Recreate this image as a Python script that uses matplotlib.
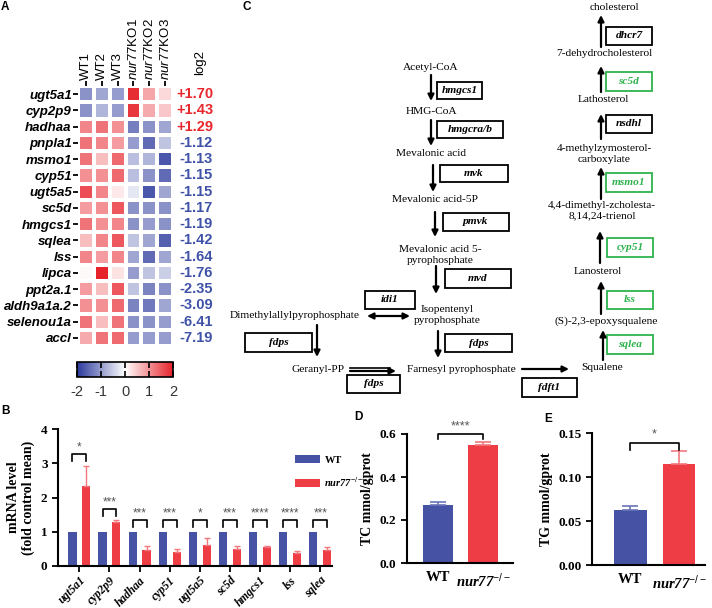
import numpy as np
import matplotlib
matplotlib.use("Agg")
import matplotlib.pyplot as plt
from matplotlib.colors import LinearSegmentedColormap
from matplotlib.patches import Rectangle

plt.rcParams['font.family'] = ['Liberation Sans', 'DejaVu Sans']
plt.rcParams['axes.unicode_minus'] = False
plt.rcParams['mathtext.fontset'] = 'custom'
plt.rcParams['mathtext.rm'] = 'Liberation Sans'
plt.rcParams['mathtext.it'] = 'Liberation Sans:italic'
plt.rcParams['mathtext.bfit'] = 'Liberation Serif:italic:bold'

W, H = 712, 608
SERIF = 'Liberation Serif'
BLUE = '#4653a5'
RED = '#ee3d45'
GREEN = '#2fb34c'

# ---- A: heatmap data
genes = ["ugt5a1", "cyp2p9", "hadhaa", "pnpla1", "msmo1", "cyp51", "ugt5a5", "sc5d",
         "hmgcs1", "sqlea", "lss", "lipca", "ppt2a.1", "aldh9a1a.2", "selenou1a", "accl"]
samples = ["WT1", "WT2", "WT3", r"$\mathit{nur77}$KO1", r"$\mathit{nur77}$KO2", r"$\mathit{nur77}$KO3"]
log2fc = [1.70, 1.43, 1.29, -1.12, -1.13, -1.15, -1.15, -1.17, -1.19, -1.42, -1.64, -1.76,
          -2.35, -3.09, -6.41, -7.19]
zscore = [
    [-1.1, -0.9, -1.0, 1.9, 0.8, 0.35],
    [-1.1, -0.75, -1.0, 1.8, 0.75, 0.5],
    [1.1, 1.25, 1.0, -1.3, -1.1, -0.9],
    [1.25, 1.1, 0.9, -1.0, -1.5, -0.6],
    [1.25, 0.6, 1.35, -0.65, -0.75, -1.7],
    [1.0, 1.0, 1.35, -0.65, -1.1, -1.5],
    [1.6, 1.1, 0.2, -0.25, -1.7, -0.9],
    [0.9, 1.0, 1.5, -1.1, -1.1, -1.1],
    [1.25, 1.0, 1.1, -1.1, -1.0, -1.1],
    [0.6, 1.1, 1.5, -0.6, -0.9, -1.6],
    [1.1, 0.9, 1.1, -0.9, -1.5, -0.9],
    [0.05, 2.0, 0.25, -1.0, -0.6, -0.5],
    [0.9, 0.6, 1.5, -0.6, -1.25, -1.1],
    [1.0, 1.0, 1.35, -1.25, -1.35, -0.9],
    [1.25, 0.6, 1.25, -1.1, -1.1, -1.0],
    [0.75, 1.25, 1.35, -1.0, -1.0, -1.0],
]

# ---- B: qPCR
qpcr_genes = ["ugt5a1", "cyp2p9", "hadhaa", "cyp51", "ugt5a5", "sc5d", "hmgcs1", "lss", "sqlea"]
wt_mean = [1, 1, 1, 1, 1, 1, 1, 1, 1]
ko_mean = [2.35, 1.29, 0.48, 0.40, 0.60, 0.49, 0.55, 0.38, 0.47]
ko_err = [0.58, 0.04, 0.09, 0.09, 0.22, 0.08, 0.02, 0.05, 0.09]
qpcr_sig = ["*", "***", "***", "***", "*", "***", "****", "****", "***"]

# ---- D / E
groups = ["WT", r"$\mathbfit{nur77}^{-/-}$"]
tc_mean = [0.27, 0.55]
tc_err = [0.012, 0.015]
tg_mean = [0.063, 0.115]
tg_err = [0.004, 0.014]

# ---- C: pathway
nodes = [
    ("Acetyl-CoA", 431, 67), ("HMG-CoA", 432, 112), ("Mevalonic acid", 431, 154),
    ("Mevalonic acid-5P", 435, 199), ("Mevalonic acid 5-\npyrophosphate", 440, 255),
    ("Isopentenyl\npyrophosphate", 447, 315), ("Dimethylallylpyrophosphate", 295, 316),
    ("Geranyl-PP", 318, 370), ("Farnesyl pyrophosphate", 461, 369), ("Squalene", 602, 368),
    ("(S)-2,3-epoxysqualene", 606, 321), ("Lanosterol", 598, 271),
    ("4,4-dimethyl-zcholesta-\n8,14,24-trienol", 602, 211),
    ("4-methylzymosterol-\ncarboxylate", 604, 154), ("Lathosterol", 603, 99),
    ("7-dehydrocholesterol", 604, 53), ("cholesterol", 614, 8),
]
enzymes = [
    ("hmgcs1", 437, 82, 482, 99, 'k'), ("hmgcra/b", 437, 121, 503, 138, 'k'),
    ("mvk", 440, 165, 508, 182, 'k'), ("pmvk", 443, 213, 509, 231, 'k'),
    ("mvd", 445, 269, 511, 288, 'k'), ("idi1", 365, 291, 415, 309, 'k'),
    ("fdps", 245, 333, 312, 352, 'k'), ("fdps", 445, 334, 512, 352, 'k'),
    ("fdps", 347, 375, 400, 393, 'k'), ("fdft1", 522, 378, 577, 397, 'k'),
    ("sqlea", 607, 335, 653, 354, GREEN), ("lss", 607, 291, 653, 309, GREEN),
    ("cyp51", 607, 238, 653, 257, GREEN), ("msmo1", 606, 173, 652, 192, GREEN),
    ("nsdhl", 606, 115, 652, 133, 'k'), ("sc5d", 606, 72, 652, 91, GREEN),
    ("dhcr7", 606, 27, 652, 45, 'k'),
]
arrows = [
    (431, 75, 431, 101), (431, 120, 431, 146), (433, 165, 433, 192), (435, 212, 435, 237),
    (436, 266, 436, 294), (438, 331, 438, 358), (317, 325, 317, 357),
    (350, 371, 396, 371), (522, 369, 569, 369),
    (603, 360, 603, 330), (601, 314, 601, 281), (600, 263, 600, 231), (601, 199, 601, 167),
    (601, 139, 601, 114), (601, 92, 601, 66), (601, 47, 601, 15),
]


def px_axes(x0, y0, x1, y1):
    return fig.add_axes([x0 / W, 1 - y1 / H, (x1 - x0) / W, (y1 - y0) / H])


fig = plt.figure(figsize=(W / 100, H / 100), dpi=100)

ovl = fig.add_axes([0, 0, 1, 1])
ovl.set_xlim(0, W)
ovl.set_ylim(H, 0)
ovl.axis('off')

for lab, x, y in [("A", 5, 7), ("B", 5, 411), ("C", 247, 7), ("D", 358, 417), ("E", 548, 419)]:
    ovl.text(x, y, lab, fontsize=8.5, fontweight='bold', ha='center', va='center')

# ---- A
cmap = LinearSegmentedColormap.from_list('bwr2', ['#2c3a9c', '#ffffff', '#e6232a'])
ax = px_axes(78, 86, 173, 346)
Z = np.array(zscore)
ax.pcolormesh(Z, cmap=cmap, vmin=-2, vmax=2, edgecolors='white', linewidth=1.5)
ax.set_xlim(0, 6)
ax.set_ylim(len(genes), 0)
ax.set_yticks(np.arange(len(genes)) + 0.5)
ax.set_yticklabels(genes, fontstyle='italic', fontweight='bold', fontsize=9.5)
ax.xaxis.tick_top()
ax.set_xticks(np.arange(6) + 0.5)
ax.set_xticklabels(samples, rotation=90, fontsize=9.5)
ax.tick_params(length=3.5, width=1.3, pad=1)
for s in ax.spines.values():
    s.set_visible(False)
for i, v in enumerate(log2fc):
    ax.text(8.53, i + 0.5, f"{v:+.2f}", ha='right', va='center', fontsize=10.5,
            fontweight='bold', color='#e8262d' if v > 0 else '#3f52a8', clip_on=False)
ax.text(7.7, -0.65, "log2", rotation=90, ha='center', va='bottom', fontsize=9.5, clip_on=False)

cax = px_axes(77, 362, 173, 377)
cb = fig.colorbar(ax.collections[0], cax=cax, orientation='horizontal', ticks=[-2, -1, 0, 1, 2])
cb.outline.set_linewidth(1.2)
cax.tick_params(direction='in', top=True, bottom=True, length=4, width=1.2,
                labelsize=10.5, labelcolor='#333333', pad=6)

# ---- B
axb = px_axes(58, 429, 332, 566)
x = np.arange(len(qpcr_genes))
bw = 0.27
off = 0.23
axb.bar(x - off, wt_mean, bw, color=BLUE, label="WT")
axb.bar(x + off, ko_mean, bw, color=RED, label=r"$\mathbfit{nur77}^{-/-}$")
axb.errorbar(x + off, ko_mean, yerr=[np.zeros(len(x)), ko_err], fmt='none',
             ecolor='#f2787e', elinewidth=1, capsize=2.5, capthick=1)
for i in range(len(x)):
    top = max(wt_mean[i], ko_mean[i] + ko_err[i]) + 0.33
    axb.plot([i - off, i - off, i + off, i + off], [top - 0.2, top, top, top - 0.2],
             color='k', lw=1.2, clip_on=False)
    axb.text(i, top + 0.02, qpcr_sig[i], ha='center', va='bottom', fontsize=8.5, color='#555555')
axb.set_xlim(-0.71, 8.39)
axb.set_ylim(0, 4)
axb.set_yticks([0, 1, 2, 3, 4])
axb.set_xticks(x)
axb.set_xticklabels(qpcr_genes, rotation=45, ha='right', rotation_mode='anchor',
                    fontstyle='italic', fontweight='bold', family=SERIF, fontsize=8.5)
for t in axb.get_yticklabels():
    t.set_fontfamily(SERIF)
    t.set_fontweight('bold')
    t.set_fontsize(9.5)
axb.set_ylabel("mRNA level\n(fold control mean)", family=SERIF, fontweight='bold', fontsize=10,
               labelpad=4)
axb.spines['top'].set_visible(False)
axb.spines['right'].set_visible(False)
axb.spines['left'].set_linewidth(1.5)
axb.spines['bottom'].set_linewidth(1.5)
axb.tick_params(width=1.3, length=4)
axb.tick_params(axis='x', pad=2)
leg = axb.legend(loc='upper left', bbox_to_anchor=(290 / W, 1 - 450 / H),
                 bbox_transform=fig.transFigure, frameon=False, handlelength=2.4,
                 handleheight=0.8, handletextpad=0.4, labelspacing=1.0, borderpad=0,
                 prop={'family': SERIF, 'weight': 'bold', 'size': 7.5})


# ---- D / E
def small_bar(box, means, errs, ylim, yticks, fmt, ylabel, sig, btop, bdrop, xlim):
    a = px_axes(*box)
    xx = np.arange(2)
    a.bar(xx, means, 0.67, color=[BLUE, RED])
    for k, ec in enumerate(['#6a74b8', '#f2787e']):
        a.errorbar(xx[k], means[k], yerr=[[0], [errs[k]]], fmt='none', ecolor=ec,
                   elinewidth=1.2, capsize=6, capthick=1.2)
    a.plot([0, 0, 1, 1], [btop - bdrop, btop, btop, btop - bdrop], color='k', lw=1.2, clip_on=False)
    a.text(0.5, btop + bdrop * 0.3, sig, ha='center', va='bottom', fontsize=9, color='#555555')
    a.set_xlim(*xlim)
    a.set_ylim(*ylim)
    a.set_yticks(yticks)
    a.set_yticklabels([fmt.format(v) for v in yticks], family=SERIF, fontweight='bold', fontsize=9.5)
    a.set_xticks(xx)
    a.set_xticklabels(groups, family=SERIF, fontweight='bold', fontsize=10.5)
    a.set_ylabel(ylabel, family=SERIF, fontweight='bold', fontsize=10, labelpad=4)
    a.spines['top'].set_visible(False)
    a.spines['right'].set_visible(False)
    a.spines['left'].set_linewidth(1.5)
    a.spines['bottom'].set_linewidth(1.5)
    a.tick_params(axis='y', width=1.3, length=4)
    a.tick_params(axis='x', length=0, pad=6)
    return a


small_bar((407, 434, 513, 563), tc_mean, tc_err, (0, 0.6), [0.0, 0.2, 0.4, 0.6], "{:.1f}",
          "TC mmol/gprot", "****", 0.6, 0.025, (-0.69, 1.67))
small_bar((592, 433, 705, 565), tg_mean, tg_err, (0, 0.15), [0.00, 0.05, 0.10, 0.15], "{:.2f}",
          "TG mmol/gprot", "*", 0.139, 0.008, (-0.78, 1.53))

# ---- C pathway
for txt, xc, yc in nodes:
    ovl.text(xc, yc, txt, ha='center', va='center', family=SERIF, fontsize=8.2, linespacing=1.2)
for txt, x0, y0, x1, y1, col in enzymes:
    ovl.add_patch(Rectangle((x0, y0), x1 - x0, y1 - y0, fill=False, edgecolor=col, lw=1.3))
    ovl.text((x0 + x1) / 2, (y0 + y1) / 2, txt, ha='center', va='center', family=SERIF,
             fontsize=8.2, fontstyle='italic', fontweight='bold', color=col)
for x0, y0, x1, y1 in arrows:
    ovl.annotate('', xy=(x1, y1), xytext=(x0, y0),
                 arrowprops=dict(arrowstyle='-|>', lw=1.6, color='k', mutation_scale=9,
                                 shrinkA=0, shrinkB=0))
ovl.annotate('', xy=(410, 316), xytext=(367, 316),
             arrowprops=dict(arrowstyle='<|-|>', lw=1.6, color='k', mutation_scale=9,
                             shrinkA=0, shrinkB=0))
ovl.plot([350, 390], [368, 368], color='k', lw=1.2)

fig.savefig("out.png", dpi=100)
